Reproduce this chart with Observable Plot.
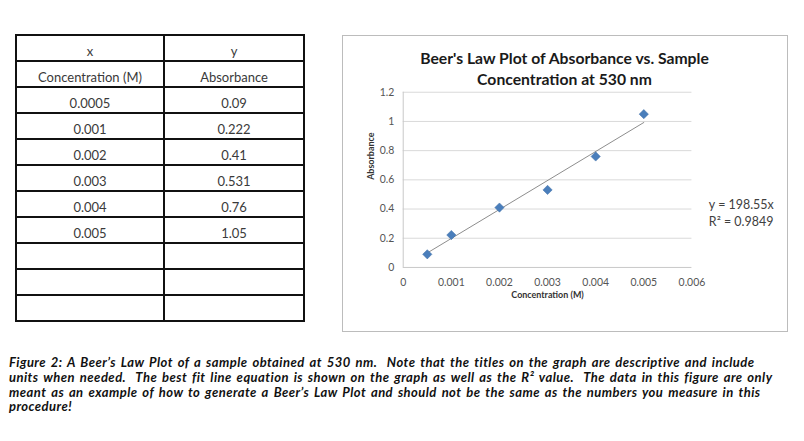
<!DOCTYPE html>
<html>
<head>
<meta charset="utf-8">
<script src="https://cdn.jsdelivr.net/npm/d3@7"></script>
<script src="https://cdn.jsdelivr.net/npm/@observablehq/plot@0.6"></script>
<style>
  html, body { margin: 0; padding: 0; background: #fff; }
  #page { position: relative; width: 804px; height: 441px; overflow: hidden; font-family: Lato, "Open Sans", sans-serif; }
  #tbl { position: absolute; left: 15px; top: 34px; border-collapse: collapse; table-layout: fixed; }
  #tbl td { border: 2px solid #111; height: 23px; padding: 0 0 1px 0; text-align: center; vertical-align: bottom;
            font-size: 13px; color: #3a3a3a; line-height: 15px; }
  #chartbox { position: absolute; left: 342px; top: 35px; width: 444px; height: 295px; border: 1px solid #bcbcbc; }
  #chartbox svg { position: absolute; left: -1px; top: -1px; }
  #caption { position: absolute; left: 9px; top: 355px; font-size: 13px; font-weight: bold; font-style: italic;
             color: #111; line-height: 14.8px; white-space: pre; letter-spacing: 0.45px; word-spacing: 1.5px; }
</style>
</head>
<body>
<div id="page">
  <table id="tbl"></table>
  <div id="chartbox"></div>
  <div id="caption"></div>
</div>
<script>
// ---- data ----
const headers = ["x", "y"];
const headerUnits = ["Concentration (M)", "Absorbance"];
const concentration = [0.0005, 0.001, 0.002, 0.003, 0.004, 0.005];
const concentrationLabels = ["0.0005", "0.001", "0.002", "0.003", "0.004", "0.005"];
const absorbance = [0.09, 0.222, 0.41, 0.531, 0.76, 1.05];
const absorbanceLabels = ["0.09", "0.222", "0.41", "0.531", "0.76", "1.05"];
const emptyRows = 3;
const xTicks = [0, 0.001, 0.002, 0.003, 0.004, 0.005, 0.006];
const yTicks = [0, 0.2, 0.4, 0.6, 0.8, 1, 1.2];
const slope = 198.55;
const equationLines = ["y = 198.55x", "R² = 0.9849"];
const titleLines = ["Beer's Law Plot of Absorbance vs. Sample", "Concentration at 530 nm"];
const xLabel = "Concentration (M)";
const yLabel = "Absorbance";
const captionLines = [
  "Figure 2: A Beer’s Law Plot of a sample obtained at 530 nm.  Note that the titles on the graph are descriptive and include",
  "units when needed.  The best fit line equation is shown on the graph as well as the R² value.  The data in this figure are only",
  "meant as an example of how to generate a Beer’s Law Plot and should not be the same as the numbers you measure in this",
  "procedure!"
];

// ---- table ----
const tbl = document.getElementById("tbl");
const rows = [headers, headerUnits, ...concentrationLabels.map((c, i) => [c, absorbanceLabels[i]])];
for (let i = 0; i < emptyRows; i++) rows.push(["", ""]);
const colgroup = document.createElement("colgroup");
[148, 140].forEach(w => { const c = document.createElement("col"); c.style.width = w + "px"; colgroup.appendChild(c); });
tbl.appendChild(colgroup);
rows.forEach(r => {
  const tr = document.createElement("tr");
  r.forEach(v => { const td = document.createElement("td"); td.textContent = v; tr.appendChild(td); });
  tbl.appendChild(tr);
});

// ---- chart ----
const points = concentration.map((x, i) => ({x, y: absorbance[i]}));
const xExt = d3.extent(concentration);
const trend = xExt.map(x => ({x, y: slope * x}));

const W = 446, H = 297;
const font = "Lato, 'Open Sans', sans-serif";
const chart = Plot.plot({
  width: W, height: H,
  marginLeft: 61, marginRight: 95, marginTop: 57, marginBottom: 64,
  style: {background: "transparent", fontFamily: font, overflow: "visible"},
  x: {domain: [0, 0.006], label: null},
  y: {domain: [0, 1.2], label: null},
  marks: [
    Plot.ruleY(yTicks.filter(d => d > 0), {stroke: "#d9d9d9", strokeWidth: 1}),
    Plot.ruleY([0], {stroke: "#c8c8c8", strokeWidth: 1}),
    Plot.ruleX([0], {stroke: "#c8c8c8", strokeWidth: 1}),
    Plot.axisX({ticks: xTicks, tickFormat: d => String(d), tickSize: 0, tickPadding: 11, fontSize: 10.5, fill: "#555", label: null}),
    Plot.axisY({ticks: yTicks, tickFormat: d => String(d), tickSize: 0, tickPadding: 9, fontSize: 10.5, fill: "#555", label: null}),
    Plot.line(trend, {x: "x", y: "y", stroke: "#8c8c8c", strokeWidth: 1}),
    Plot.dot(points, {x: "x", y: "y", symbol: "diamond2", r: 4.2, fill: "#4a7ebb", stroke: "#3f6fa8", strokeWidth: 0.5}),
    Plot.text([titleLines[0]], {frameAnchor: "top", dx: 17, dy: -40, fontSize: 15.8, fontWeight: "bold", fill: "#1a1a1a"}),
    Plot.text([titleLines[1]], {frameAnchor: "top", dx: 17, dy: -18, fontSize: 15.8, fontWeight: "bold", fill: "#1a1a1a"}),
    Plot.text([yLabel], {frameAnchor: "left", dx: -32, rotate: -90, fontSize: 9, fontWeight: "bold", fill: "#333"}),
    Plot.text([xLabel], {frameAnchor: "bottom", dy: 31, fontSize: 9, fontWeight: "bold", fill: "#333"}),
    Plot.text([equationLines[0]], {frameAnchor: "right", textAnchor: "start", dx: 17, dy: 25, fontSize: 12.5, fill: "#404040"}),
    Plot.text([equationLines[1]], {frameAnchor: "right", textAnchor: "start", dx: 17, dy: 42, fontSize: 12.5, fill: "#404040"})
  ]
});
document.getElementById("chartbox").appendChild(chart);

// ---- caption ----
document.getElementById("caption").textContent = captionLines.join("\n");
</script>
</body>
</html>
